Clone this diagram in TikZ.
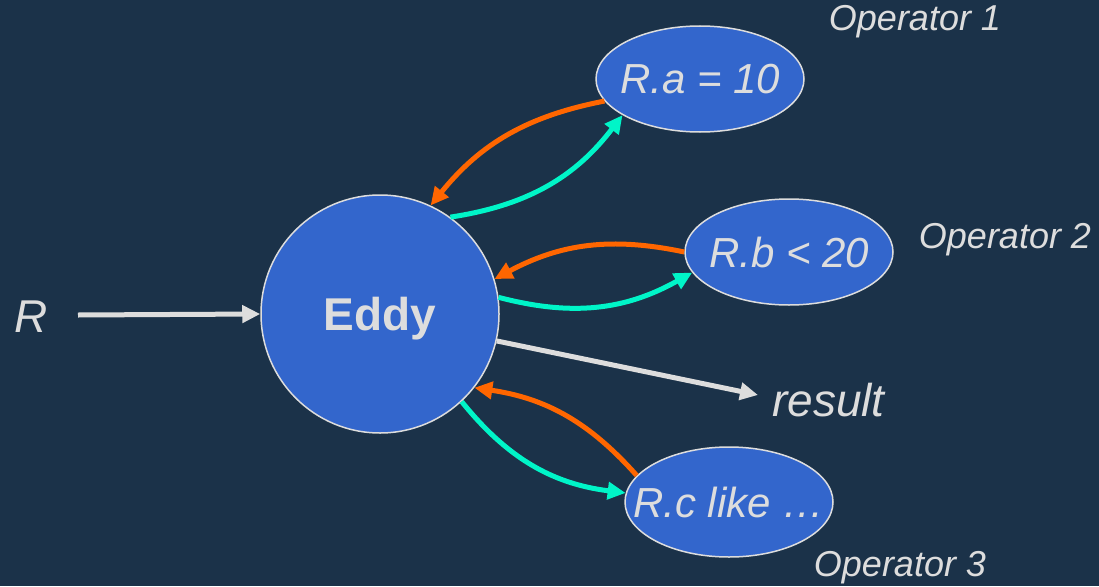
\documentclass[tikz,border=0pt]{standalone}
\usepackage{fontspec}
\setmainfont{Liberation Sans}
\usetikzlibrary{arrows.meta,shapes.geometric}
\definecolor{bg}{HTML}{1B3249}
\definecolor{nodefill}{HTML}{3366CC}
\definecolor{txt}{HTML}{DDDDDD}
\definecolor{outcol}{HTML}{FF6600}
\definecolor{backcol}{HTML}{00F5C8}
\begin{document}
\begin{tikzpicture}[x=1pt,y=-1pt,
  opnode/.style={ellipse,draw=txt,line width=1.5pt,fill=nodefill,inner xsep=-30pt,inner ysep=0pt,
    minimum width=208pt,minimum height=106pt,text=txt,
    font=\fontsize{42}{46}\selectfont\itshape},
  lbl/.style={text=txt,inner sep=0pt},
  flow/.style={line width=5pt,-{Triangle[length=18pt,width=17pt]}},
  toop/.style={flow,draw=backcol,bend right=22},
  fromop/.style={flow,draw=outcol,bend right=20},
  plain/.style={line width=5pt,draw=txt,-{Triangle[length=18pt,width=17pt]}}]
\fill[bg] (0,0) rectangle (1099,586);
\useasboundingbox (0,0) rectangle (1099,586);
\node[circle,draw=txt,line width=1.5pt,fill=nodefill,minimum size=238pt,inner sep=0pt,
  text height=33pt,text depth=0pt,
  text=txt,font=\fontsize{46}{50}\selectfont\bfseries] (eddy) at (380,314) {Eddy};
\node[opnode] (op1) at (700,79) {R.a = 10};
\node[opnode] (op2) at (789,252) {R.b < 20};
\node[opnode,minimum height=110pt] (op3) at (729,502) {R.c like …};
\node[lbl,font=\fontsize{36}{40}\selectfont\itshape] (o1) at (915,22) {Operator 1};
\node[lbl,font=\fontsize{36}{40}\selectfont\itshape] (o2) at (1005,240) {Operator 2};
\node[lbl,font=\fontsize{36}{40}\selectfont\itshape] (o3) at (900,568) {Operator 3};
\node[lbl,font=\fontsize{46}{50}\selectfont\itshape] (r) at (31,317) {R};
\node[lbl,font=\fontsize{46}{50}\selectfont\itshape,anchor=west] (res) at (772,400) {result};
\coordinate (rstart) at (78,315);
\coordinate (resend) at (758,395);
\draw[plain] (rstart) -- (eddy.west);
\draw[plain] (eddy.-13.7) -- (resend);
\draw[fromop] (op1.193) to (eddy.65);
\draw[toop] (eddy.54.5) to (op1.205);
\draw[fromop] (op2.180.5) to (eddy.17.5);
\draw[toop] (eddy.8.7) to (op2.192);
\draw[fromop] (op3.164) to (eddy.-38.6);
\draw[toop] (eddy.-47.7) to (op3.175.6);
\end{tikzpicture}
\end{document}
